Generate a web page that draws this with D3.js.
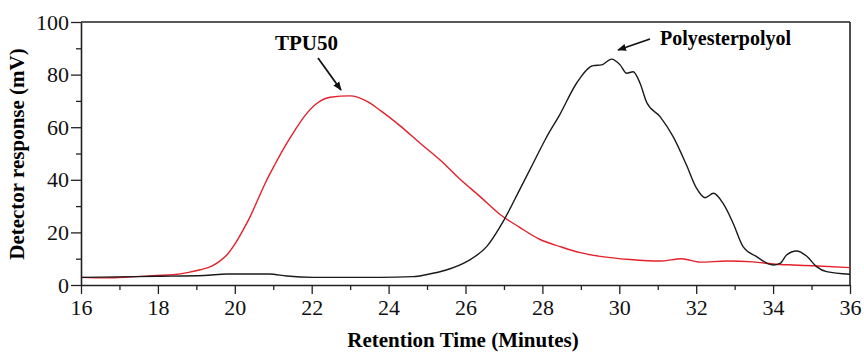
<!DOCTYPE html>
<html>
<head>
<meta charset="utf-8">
<script src="https://cdn.jsdelivr.net/npm/d3@7"></script>
<style>
  body { margin: 0; background: #fff; }
  svg { display: block; }
</style>
</head>
<body>
<svg width="864" height="353"></svg>
<script>
// TPU50 trace (red)
var tpuTime = [16, 16.67, 17.3, 17.97, 18.4, 18.8, 19.1, 19.4, 19.6, 19.8, 20, 20.2, 20.4, 20.6, 20.8, 21.05, 21.3, 21.57, 21.83, 22.13, 22.48, 23, 23.43, 23.8, 24.3, 24.82, 25.34, 25.86, 26.38, 26.9, 27.4, 27.94, 28.46, 28.98, 29.5, 30.28, 31.06, 31.62, 32.1, 32.8, 33.48, 34, 34.52, 35.04, 36];
var tpuValue = [2.9, 2.7, 3.1, 3.6, 3.9, 4.8, 5.8, 7.2, 9.0, 11.5, 15.5, 20.5, 26, 32.5, 39, 46, 52.6, 59, 64.5, 69, 71.4, 71.9, 69.9, 66.2, 60.5, 53.9, 47.5, 40.2, 33.6, 26.8, 22.0, 17.3, 14.6, 12.3, 10.9, 9.7, 9.1, 10, 8.7, 9.1, 8.8, 8.0, 7.6, 7.3, 6.6];

// Polyesterpolyol trace (black)
var polTime = [16, 17, 18, 19.2, 19.8, 20.9, 21.35, 22.04, 23, 23.78, 24.64, 25, 25.5, 26.03, 26.55, 27, 27.4, 27.76, 28.1, 28.46, 28.9, 29.32, 29.54, 29.8, 30.02, 30.19, 30.36, 30.54, 30.71, 31.06, 31.4, 31.75, 32.0, 32.23, 32.45, 32.7, 32.96, 33.22, 33.57, 34.0, 34.18, 34.35, 34.61, 34.87, 35.13, 35.39, 36];
var polValue = [2.9, 3.1, 3.3, 3.6, 4.2, 4.2, 3.4, 2.9, 2.9, 2.9, 3.2, 4, 5.7, 8.9, 14.6, 24.7, 36, 46.3, 56, 65, 77, 83.4, 83.7, 85.9, 83.7, 80.5, 81.1, 76.7, 69.5, 64, 56.4, 45.5, 37, 33.2, 34.9, 31, 23.5, 14.6, 10.8, 7.6, 8.2, 11.4, 12.9, 11, 7, 5.1, 4.1];

var xTicks = [16, 18, 20, 22, 24, 26, 28, 30, 32, 34, 36];
var xMinor = [17, 19, 21, 23, 25, 27, 29, 31, 33, 35];
var yTicks = [0, 20, 40, 60, 80, 100];
var yMinor = [10, 30, 50, 70, 90];

var svg = d3.select("svg");
var mLeft = 81, mTop = 22, mRight = 850, mBottom = 285;
var serif = "Liberation Serif, Times New Roman, serif";

var x = d3.scaleLinear().domain([16, 36]).range([mLeft, mRight]);
var y = d3.scaleLinear().domain([0, 100]).range([mBottom, mTop]);

// minor ticks first
svg.append("g").attr("transform", "translate(0," + mBottom + ")")
    .call(d3.axisBottom(x).tickValues(xMinor).tickSize(5).tickFormat(""))
    .call(g => g.select(".domain").remove())
    .selectAll("line").attr("stroke", "#222").attr("stroke-width", 1.3);
svg.append("g").attr("transform", "translate(" + mLeft + ",0)")
    .call(d3.axisLeft(y).tickValues(yMinor).tickSize(5).tickFormat(""))
    .call(g => g.select(".domain").remove())
    .selectAll("line").attr("stroke", "#222").attr("stroke-width", 1.3);

// major axes
var xAxis = svg.append("g").attr("transform", "translate(0," + mBottom + ")")
    .call(d3.axisBottom(x).tickValues(xTicks).tickSize(9).tickSizeOuter(0).tickPadding(5));
var yAxis = svg.append("g").attr("transform", "translate(" + mLeft + ",0)")
    .call(d3.axisLeft(y).tickValues(yTicks).tickSize(10).tickSizeOuter(0).tickPadding(2));

[xAxis, yAxis].forEach(function(a) {
    a.attr("font-family", serif).attr("font-size", 22);
    a.selectAll("line").attr("stroke", "#222").attr("stroke-width", 1.3);
    a.select(".domain").attr("stroke", "#222").attr("stroke-width", 1.6);
    a.selectAll("text")
        .style("font-family", serif)
        .style("font-size", "22px")
        .attr("fill", "#111");
});

// frame top and right
svg.append("line").attr("x1", mLeft).attr("x2", mRight).attr("y1", mTop).attr("y2", mTop)
    .attr("stroke", "#222").attr("stroke-width", 1.6);
svg.append("line").attr("x1", mRight).attr("x2", mRight).attr("y1", mTop).attr("y2", mBottom)
    .attr("stroke", "#222").attr("stroke-width", 1.6);

var line = d3.line()
    .x(d => x(d[0]))
    .y(d => y(d[1]))
    .curve(d3.curveMonotoneX);

svg.append("path")
    .datum(d3.zip(tpuTime, tpuValue))
    .attr("d", line)
    .attr("fill", "none")
    .attr("stroke", "#e3202b")
    .attr("stroke-width", 1.4);

svg.append("path")
    .datum(d3.zip(polTime, polValue))
    .attr("d", line)
    .attr("fill", "none")
    .attr("stroke", "#1a1a1a")
    .attr("stroke-width", 1.4);

// arrows
svg.append("defs").append("marker")
    .attr("id", "head")
    .attr("viewBox", "0 0 10 10")
    .attr("refX", 9).attr("refY", 5)
    .attr("markerWidth", 5).attr("markerHeight", 5)
    .attr("orient", "auto")
    .append("path").attr("d", "M0,1 L10,5 L0,9 Z").attr("fill", "#111");

svg.append("line")
    .attr("x1", 318).attr("y1", 58).attr("x2", 341).attr("y2", 90)
    .attr("stroke", "#111").attr("stroke-width", 1.8).attr("marker-end", "url(#head)");
svg.append("line")
    .attr("x1", 650).attr("y1", 39).attr("x2", 618).attr("y2", 50)
    .attr("stroke", "#111").attr("stroke-width", 1.8).attr("marker-end", "url(#head)");

svg.append("text")
    .attr("x", 275).attr("y", 50)
    .style("font-family", serif).style("font-weight", "bold").style("font-size", "21px")
    .text("TPU50");

svg.append("text")
    .attr("x", 660).attr("y", 45)
    .style("font-family", serif).style("font-weight", "bold").style("font-size", "20px")
    .text("Polyesterpolyol");

// axis titles
svg.append("text")
    .attr("x", 463).attr("y", 347)
    .attr("text-anchor", "middle")
    .style("font-family", serif).style("font-weight", "bold").style("font-size", "21px")
    .text("Retention Time (Minutes)");

svg.append("text")
    .attr("transform", "translate(24,154) rotate(-90)")
    .attr("text-anchor", "middle")
    .style("font-family", serif).style("font-weight", "bold").style("font-size", "21px")
    .text("Detector response (mV)");
</script>
</body>
</html>
